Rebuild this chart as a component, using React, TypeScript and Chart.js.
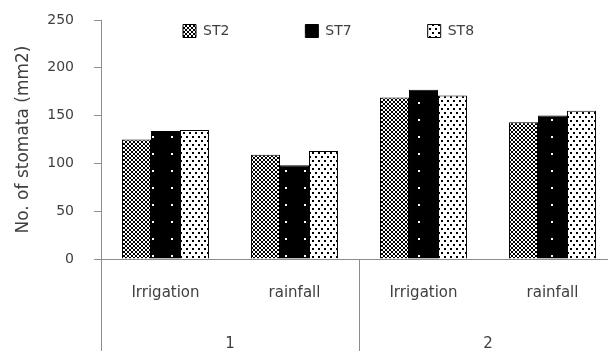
import React, { useEffect, useRef } from 'react';
import { Chart, registerables } from 'chart.js';

Chart.register(...registerables);

// ---- data ----
const categories = ['Irrigation', 'rainfall', 'Irrigation', 'rainfall'];
const groups = ['1', '2'];
const seriesNames = ['ST2', 'ST7', 'ST8'];
const st2Values = [125, 109, 169, 143];
const st7Values = [134, 98, 177, 150];
const st8Values = [135, 113, 171, 155];
const yMin = 0;
const yMax = 250;
const yStep = 50;
const yTitle = 'No. of stomata (mm2)';

// ---- style ----
const FONT = "'DejaVu Sans', sans-serif";
const TEXT = '#404040';
const AXIS = '#8c8c8c';
const CANVAS_W = 620;
const CANVAS_H = 351;
const LEGEND_X = 183;
const LEGEND_Y = 24;

const TILE_ST2 = [
  '#..##..#',
  '.##..##.',
  '.##..##.',
  '#..##..#',
  '#..##..#',
  '.##..##.',
  '.##..##.',
  '#..##..#',
];
const TILE_ST7 = (() => {
  const rows: string[] = [];
  for (let y = 0; y < 17; y++) {
    let r = '';
    for (let x = 0; x < 19; x++) r += (y < 2 && x < 2) ? '.' : '#';
    rows.push(r);
  }
  return rows;
})();
const TILE_ST8 = [
  '##....',
  '##....',
  '......',
  '......',
  '...##.',
  '...##.',
  '......',
  '......',
];

function makePattern(ctx: CanvasRenderingContext2D, bits: string[]) {
  const h = bits.length;
  const w = bits[0].length;
  const c = document.createElement('canvas');
  c.width = w;
  c.height = h;
  const g = c.getContext('2d')!;
  g.fillStyle = '#ffffff';
  g.fillRect(0, 0, w, h);
  g.fillStyle = '#000000';
  bits.forEach((row, y) => {
    for (let x = 0; x < row.length; x++) if (row[x] === '#') g.fillRect(x, y, 1, 1);
  });
  return ctx.createPattern(c, 'repeat') as CanvasPattern;
}

const legendPlacer = {
  id: 'legendPlacer',
  afterLayout(chart: any) {
    const lg = chart.legend;
    if (!lg) return;
    const pad = lg.options.labels.padding;
    lg.left = LEGEND_X - pad;
    lg.right = chart.width;
    lg.top = LEGEND_Y - pad;
    lg.bottom = LEGEND_Y + 30;
  },
};

const groupSeparators = {
  id: 'groupSeparators',
  afterDraw(chart: any) {
    const { ctx, chartArea } = chart;
    const xs = chart.scales.x;
    const per = categories.length / groups.length;
    ctx.save();
    ctx.strokeStyle = AXIS;
    ctx.lineWidth = 1;
    for (let k = 0; k <= groups.length; k++) {
      const px = Math.round(xs.getPixelForValue(k * per - 0.5)) + 0.5;
      ctx.beginPath();
      ctx.moveTo(px, chartArea.bottom);
      ctx.lineTo(px, chart.height);
      ctx.stroke();
    }
    ctx.restore();
  },
};

export default function App() {
  const ref = useRef<HTMLCanvasElement>(null);
  useEffect(() => {
    const canvas = ref.current!;
    const ctx = canvas.getContext('2d')!;
    const patterns = [makePattern(ctx, TILE_ST2), makePattern(ctx, TILE_ST7), makePattern(ctx, TILE_ST8)];
    const values = [st2Values, st7Values, st8Values];
    const chart = new Chart(canvas, {
      type: 'bar',
      data: {
        labels: categories,
        datasets: seriesNames.map((name, i) => ({
          label: name,
          data: values[i],
          backgroundColor: patterns[i],
          borderColor: '#000000',
          borderWidth: 1,
          categoryPercentage: 0.674,
          barPercentage: 1,
        })),
      },
      options: {
        animation: false,
        responsive: false,
        devicePixelRatio: 1,
        layout: { padding: { left: 0, right: 3, top: 0, bottom: 0 } },
        plugins: {
          legend: {
            display: true,
            position: 'top',
            align: 'start',
            maxHeight: 20,
            labels: {
              boxWidth: 13,
              boxHeight: 13,
              padding: 76,
              color: TEXT,
              font: { family: FONT, size: 14 },
            },
          },
          tooltip: { enabled: false },
        },
        scales: {
          x: {
            type: 'category',
            offset: true,
            weight: 0,
            grid: { display: false },
            border: { display: true, color: AXIS, width: 1 },
            ticks: { color: TEXT, font: { family: FONT, size: 15 }, padding: 17, maxRotation: 0, autoSkip: false },
            afterFit: (s: any) => { s.height = 50; },
          },
          x2: {
            type: 'category',
            labels: groups,
            position: 'bottom',
            offset: true,
            weight: 1,
            grid: { display: false },
            border: { display: false },
            ticks: { color: TEXT, font: { family: FONT, size: 15 }, padding: 18, maxRotation: 0, autoSkip: false },
            afterFit: (s: any) => { s.height = 42; },
          },
          y: {
            min: yMin,
            max: yMax,
            ticks: { stepSize: yStep, color: TEXT, font: { family: FONT, size: 14 }, padding: 20 },
            grid: { display: true, drawOnChartArea: false, drawTicks: true, tickLength: 7, color: AXIS },
            border: { display: true, color: AXIS, width: 1 },
            title: {
              display: true,
              text: yTitle,
              color: TEXT,
              font: { family: FONT, size: 17 },
              padding: { top: 13, bottom: 0 },
            },
            afterFit: (s: any) => {
              s.width = 101;
              s.paddingTop = 0;
              s.paddingBottom = 0;
            },
          },
        },
      } as any,
      plugins: [legendPlacer, groupSeparators],
    });
    return () => chart.destroy();
  }, []);

  return (
    <div style={{ position: 'fixed', left: 0, top: 0, width: 608, height: 351, overflow: 'hidden', background: '#ffffff' }}>
      <canvas ref={ref} width={CANVAS_W} height={CANVAS_H} style={{ display: 'block' }} />
    </div>
  );
}
